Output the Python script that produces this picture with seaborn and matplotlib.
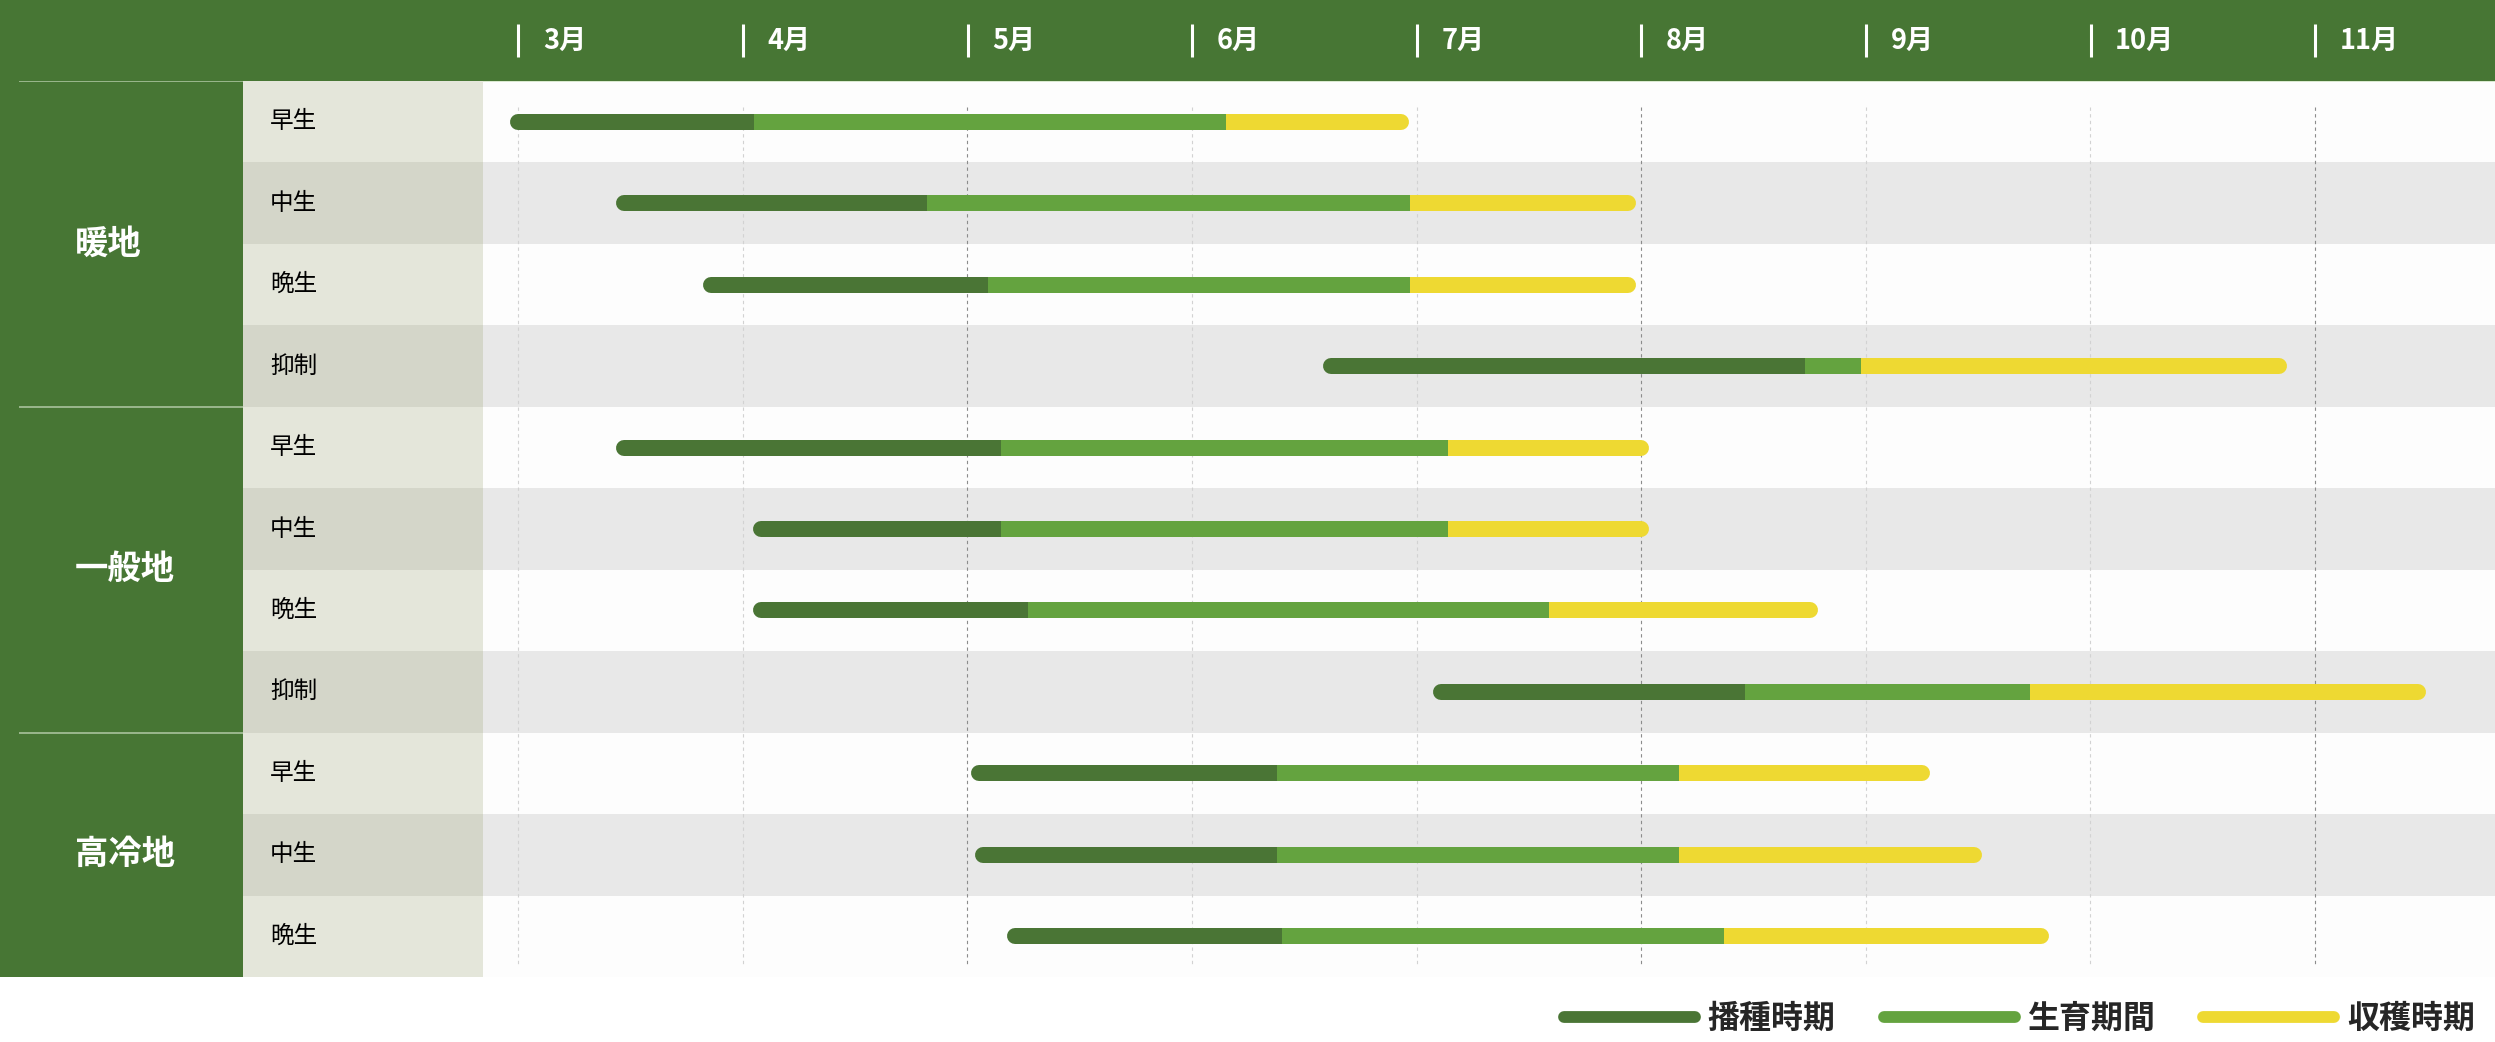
import numpy as np
import pandas as pd
import matplotlib
matplotlib.use("Agg")
import matplotlib.pyplot as plt
from matplotlib.lines import Line2D
import seaborn as sns

# data (month units, 3.0 = start of March)
groups = ["暖地", "一般地", "高冷地"]
group_sizes = [4, 4, 3]
varieties = ["早生", "中生", "晩生", "抑制",
             "早生", "中生", "晩生", "抑制",
             "早生", "中生", "晩生"]
sow_start = [3.00, 3.47, 3.86, 6.62, 3.47, 4.08, 4.08, 7.11, 5.05, 5.07, 5.21]
grow_start = [4.05, 4.82, 5.09, 8.73, 5.15, 5.15, 5.27, 8.46, 6.38, 6.38, 6.40]
harvest_start = [6.15, 6.97, 6.97, 8.98, 7.14, 7.14, 7.59, 9.73, 8.17, 8.17, 8.37]
harvest_end = [6.93, 7.94, 7.94, 10.84, 8.00, 8.00, 8.75, 11.46, 9.25, 9.48, 9.78]
months = [3, 4, 5, 6, 7, 8, 9, 10, 11]
month_labels = [f"{m}月" for m in months]
phase_labels = ["播種時期", "生育期間", "収穫時期"]

# colours
HEADER_GREEN = "#477634"
DARK = "#4a7535"
MID = "#64a33f"
YELLOW = "#eed932"

sns.set_theme(style="white")
plt.rcParams["font.family"] = ["Noto Sans CJK JP", "DejaVu Sans"]

W, H = 2495, 1042
fig = plt.figure(figsize=(W / 100, H / 100), dpi=100)
fig.patch.set_facecolor("white")

# pixel layout
px_month = 224.6
x_march = 518.3
top, bottom = 81, 977
left_col, chart_left = 243, 483


def px_to_month(px):
    return 3 + (px - x_march) / px_month


n = len(varieties)
rows = np.arange(n)

# ---- chart area
ax = fig.add_axes([chart_left / W, (H - bottom) / H, (W - chart_left) / W, (bottom - top) / H])
for r in rows:
    ax.axhspan(r - 0.5, r + 0.5, color="#fdfdfd" if r % 2 == 0 else "#e8e8e8", lw=0, zorder=0)

grid_top = -0.5 + (107 - top) / 81.5
grid_bot = -0.5 + (967 - top) / 81.5
for m in months:
    ax.vlines(m, grid_top, grid_bot, colors="#8c8c8c" if m % 3 == 2 else "#d2d2d2",
              linestyles=(0, (3, 3)), lw=0.8, zorder=1)
ax.axhline(-0.5, color="#d4e6c8", lw=1.2, zorder=1)

segs = pd.DataFrame({
    "row": np.concatenate([rows, rows, rows, rows, rows, rows]),
    "month": np.concatenate([sow_start, grow_start, grow_start, harvest_start, harvest_start, harvest_end]),
    "phase": ["sow"] * (2 * n) + ["grow"] * (2 * n) + ["harvest"] * (2 * n),
})

bar_lw = 16 * 72 / 100
for phase, color, cap in [("harvest", YELLOW, "round"), ("sow", DARK, "round"), ("grow", MID, "butt")]:
    sns.lineplot(data=segs[segs["phase"] == phase], x="month", y="row", units="row",
                 estimator=None, sort=False, color=color, lw=bar_lw,
                 solid_capstyle=cap, ax=ax, zorder=3)

ax.set_xlim(px_to_month(chart_left), px_to_month(W))
ax.set_ylim(n - 0.5, -0.5)
ax.set_xlabel("")
ax.set_ylabel("")
ax.set_xticks([])
ax.set_yticks([])
for s in ax.spines.values():
    s.set_visible(False)

# ---- left label columns
axl = fig.add_axes([0, (H - bottom) / H, chart_left / W, (bottom - top) / H])
axl.barh(rows, chart_left - left_col, left=left_col, height=1,
         color=["#e4e6da" if r % 2 == 0 else "#d4d6c9" for r in rows], lw=0)
start = 0
for g, size in zip(groups, group_sizes):
    center = start + (size - 1) / 2
    axl.barh(center, left_col, left=0, height=size, color=HEADER_GREEN, lw=0)
    axl.text(75, center, g, color="white", fontsize=24, fontweight="bold", va="center", ha="left")
    axl.hlines(start - 0.5, 19, left_col, colors="#a9c29c", lw=1.2, zorder=3)
    start += size
for r, v in zip(rows, varieties):
    axl.text(270, r, v, color="black", fontsize=17, va="center", ha="left")
axl.set_xlim(0, chart_left)
axl.set_ylim(n - 0.5, -0.5)
axl.axis("off")

# ---- header
axh = fig.add_axes([0, (H - top) / H, 1, top / H])
axh.set_facecolor(HEADER_GREEN)
axh.set_xlim(px_to_month(0), px_to_month(W))
axh.set_ylim(top, 0)
axh.vlines(months, 24, 57, colors="white", lw=2.2)
for m, lab in zip(months, month_labels):
    axh.text(m + 0.11, 41, lab, color="white", fontsize=19.5, fontweight="bold", va="center", ha="left")
axh.set_xticks([])
axh.set_yticks([])
for s in axh.spines.values():
    s.set_visible(False)

# ---- legend
handles = [Line2D([0], [0], color=c, lw=8.5, solid_capstyle="round") for c in [DARK, MID, YELLOW]]
fig.legend(handles, phase_labels, loc="center right", bbox_to_anchor=(2475 / W, 1 - 1019 / H),
           ncol=3, frameon=False, handlelength=4.1, handletextpad=0.4, columnspacing=1.5,
           borderpad=0, borderaxespad=0, prop={"size": 23, "weight": "bold"})

fig.savefig("out.png", dpi=100, facecolor="white")
